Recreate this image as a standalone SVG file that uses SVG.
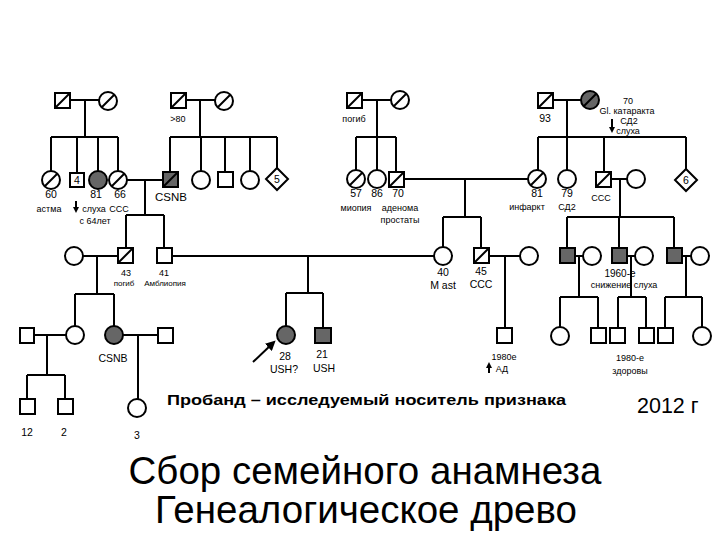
<svg xmlns="http://www.w3.org/2000/svg" width="720" height="540" viewBox="0 0 720 540">
<style>
.ln{stroke:#000;stroke-width:2;fill:none}
.sh{fill:#fff;stroke:#000;stroke-width:2}
.af{fill:#666;stroke:#000;stroke-width:2}
.sl{stroke:#000;stroke-width:2}
text{font-family:"Liberation Sans",Arial,sans-serif;fill:#000}
.s{font-size:9px;text-anchor:middle}
.m{font-size:10.5px;text-anchor:middle}
</style>
<defs>
<marker id="ah" markerWidth="6" markerHeight="6" refX="3" refY="3" orient="auto" markerUnits="userSpaceOnUse"><path d="M0,0 L6,3 L0,6 z" fill="#000"/></marker>
<marker id="ab" markerWidth="10" markerHeight="10" refX="5" refY="5" orient="auto" markerUnits="userSpaceOnUse"><path d="M0,0 L10,5 L0,10 z" fill="#000"/></marker>
</defs>
<rect width="720" height="540" fill="#fff"/>

<g id="connectors">
<path class="ln" d="M70,100 H99 M85,100 V137 M51,137 H118 M51,137 V172 M77,137 V173 M98,137 V171 M118,137 V171"/>
<path class="ln" d="M186,100 H215 M200,100 V137 M170,137 H277 M170,137 V172 M201,137 V171 M225,137 V172 M250,137 V171 M277,137 V168"/>
<path class="ln" d="M127,180 H163 M145,180 V215 M126,215 H164 M126,215 V248 M164,215 V248"/>
<path class="ln" d="M362,100 H391 M377,100 V137 M356,137 H396 M356,137 V171 M377,137 V171 M396,137 V172"/>
<path class="ln" d="M553,100 H581 M567,100 V137 M538,137 H686 M538,137 V170 M567,137 V170 M604,137 V172 M686,137 V169"/>
<path class="ln" d="M404,179 H528 M465,179 V217 M443,217 H481 M443,217 V247 M481,217 V248"/>
<path class="ln" d="M611,179 H627 M620,179 V217 M567,217 H674 M567,217 V248 M619,217 V248 M674,217 V248"/>
<path class="ln" d="M83,256 H118 M97,256 V294 M75,294 H114 M75,294 V326 M114,294 V326"/>
<path class="ln" d="M172,256 H434 M308,256 V293 M286,293 H323 M286,293 V326 M323,293 V328"/>
<path class="ln" d="M489,256 H520 M505,256 V328"/>
<path class="ln" d="M575,256 H583 M579,256 V297 M560,297 H598 M560,297 V327 M598,297 V328"/>
<path class="ln" d="M627,256 H635 M631,256 V297 M618,297 H646 M618,297 V328 M646,297 V328"/>
<path class="ln" d="M682,256 H691 M686,256 V297 M665,297 H702 M665,297 V328 M702,297 V327"/>
<path class="ln" d="M34,335 H66 M47,335 V375 M27,375 H65 M27,375 V399 M65,375 V399"/>
<path class="ln" d="M123,335 H158 M138,335 V399"/>
<line class="ln" x1="76" y1="201" x2="76" y2="210" stroke-width="1.2" marker-end="url(#ah)"/>
<line class="ln" x1="612" y1="119" x2="612" y2="130" stroke-width="1.2" marker-end="url(#ah)"/>
<line class="ln" x1="489" y1="373" x2="489" y2="365" stroke-width="1.2" marker-end="url(#ah)"/>
<line class="ln" x1="253" y1="362" x2="272" y2="344" stroke-width="3" marker-end="url(#ab)"/>
</g>

<g id="I1"><rect class="sh" x="55" y="93" width="15" height="15"/><line class="sl" x1="55" y1="108" x2="70" y2="93"/></g>
<g id="I2"><circle class="sh" cx="108" cy="101" r="9"/><line class="sl" x1="102" y1="107" x2="114" y2="95"/></g>
<g id="I3"><rect class="sh" x="171" y="93" width="15" height="15"/><line class="sl" x1="171" y1="108" x2="186" y2="93"/><text class="s" x="178" y="122">&gt;80</text></g>
<g id="I4"><circle class="sh" cx="224" cy="101" r="9"/><line class="sl" x1="218" y1="107" x2="230" y2="95"/></g>
<g id="I5"><rect class="sh" x="347" y="93" width="15" height="15"/><line class="sl" x1="347" y1="108" x2="362" y2="93"/><text class="s" x="354" y="122">погиб</text></g>
<g id="I6"><circle class="sh" cx="400" cy="100" r="9"/><line class="sl" x1="394" y1="106" x2="406" y2="94"/></g>
<g id="I7"><rect class="sh" x="538" y="93" width="15" height="15"/><line class="sl" x1="538" y1="108" x2="553" y2="93"/><text class="m" x="545" y="122">93</text></g>
<g id="I8"><circle class="af" cx="590" cy="100" r="9"/><line class="sl" x1="584" y1="106" x2="596" y2="94"/>
<text class="s" x="628" y="104">70</text><text class="s" x="627" y="114">Gl. катаракта</text><text class="s" x="629" y="124">СД2</text><text class="s" x="628" y="134">слуха</text></g>

<g id="II1"><circle class="sh" cx="51" cy="180" r="9"/><line class="sl" x1="45" y1="186" x2="57" y2="174"/><text class="m" x="51" y="198">60</text><text class="s" x="49" y="212">астма</text></g>
<g id="II2"><rect class="sh" x="70" y="173" width="14" height="14"/><text class="m" x="77" y="184">4</text></g>
<g id="II3"><circle class="af" cx="98" cy="180" r="9"/><text class="m" x="96" y="198">81</text><text class="s" x="94" y="212">слуха</text><text class="s" x="95" y="224">с 64лет</text></g>
<g id="II4"><circle class="sh" cx="118" cy="180" r="9"/><line class="sl" x1="112" y1="186" x2="124" y2="174"/><text class="m" x="120" y="198">66</text><text class="s" x="119" y="212">ССС</text></g>
<g id="II5"><rect class="af" x="163" y="172" width="15" height="15"/><line class="sl" x1="163" y1="187" x2="178" y2="172"/><text class="m" x="171" y="201" style="font-size:11.5px">CSNB</text></g>
<g id="II6"><circle class="sh" cx="201" cy="180" r="9"/></g>
<g id="II7"><rect class="sh" x="218" y="172" width="15" height="15"/></g>
<g id="II8"><circle class="sh" cx="250" cy="180" r="9"/></g>
<g id="II9"><polygon class="sh" points="277,168 288,179 277,190 266,179"/><text class="m" x="277" y="183">5</text></g>
<g id="II10"><circle class="sh" cx="356" cy="179" r="9"/><line class="sl" x1="350" y1="185" x2="362" y2="173"/><text class="m" x="356" y="197">57</text><text class="s" x="356" y="211">миопия</text></g>
<g id="II11"><circle class="sh" cx="377" cy="179" r="9"/><text class="m" x="377" y="197">86</text></g>
<g id="II12"><rect class="sh" x="389" y="172" width="15" height="15"/><line class="sl" x1="389" y1="187" x2="404" y2="172"/><text class="m" x="398" y="197">70</text><text class="s" x="400" y="211">аденома</text><text class="s" x="400" y="223">простаты</text></g>
<g id="II13"><circle class="sh" cx="537" cy="179" r="9"/><line class="sl" x1="531" y1="185" x2="543" y2="173"/><text class="m" x="537" y="197">81</text><text class="s" x="527" y="210">инфаркт</text></g>
<g id="II14"><circle class="sh" cx="567" cy="179" r="9"/><text class="m" x="567" y="197">79</text><text class="s" x="567" y="210">СД2</text></g>
<g id="II15"><rect class="sh" x="596" y="172" width="15" height="15"/><line class="sl" x1="596" y1="187" x2="611" y2="172"/><text class="s" x="601" y="201">ССС</text></g>
<g id="II16"><circle class="sh" cx="636" cy="179" r="9"/></g>
<g id="II17"><polygon class="sh" points="686,169 697,180 686,191 675,180"/><text class="m" x="686" y="184">6</text></g>

<g id="III1"><circle class="sh" cx="74" cy="256" r="9"/></g>
<g id="III2"><rect class="sh" x="118" y="248" width="15" height="15"/><line class="sl" x1="118" y1="263" x2="133" y2="248"/><text class="s" x="126" y="276">43</text><text class="s" x="124" y="286" style="font-size:8px">погиб</text></g>
<g id="III3"><rect class="sh" x="157" y="248" width="15" height="15"/><text class="s" x="164" y="276">41</text><text class="s" x="165" y="286" style="font-size:8px">Амблиопия</text></g>
<g id="III4"><circle class="sh" cx="443" cy="256" r="9"/><text class="m" x="443" y="276">40</text><text class="m" x="443" y="289">M ast</text></g>
<g id="III5"><rect class="sh" x="474" y="248" width="15" height="15"/><line class="sl" x1="474" y1="263" x2="489" y2="248"/><text class="m" x="481" y="275">45</text><text class="m" x="481" y="288">ССС</text></g>
<g id="III6"><circle class="sh" cx="529" cy="256" r="9"/></g>
<g id="III7"><rect class="af" x="560" y="248" width="15" height="15"/></g>
<g id="III8"><circle class="sh" cx="592" cy="256" r="9"/></g>
<g id="III9"><rect class="af" x="612" y="248" width="15" height="15"/><text class="s" x="620" y="277" style="font-size:10px">1960-е</text><text class="s" x="624" y="288">снижение слуха</text></g>
<g id="III10"><circle class="sh" cx="644" cy="256" r="9"/></g>
<g id="III11"><rect class="af" x="667" y="248" width="15" height="15"/></g>
<g id="III12"><circle class="sh" cx="700" cy="256" r="9"/></g>

<g id="IV1"><rect class="sh" x="20" y="328" width="14" height="15"/></g>
<g id="IV2"><circle class="sh" cx="75" cy="335" r="9"/></g>
<g id="IV3"><circle class="af" cx="114" cy="335" r="9"/><text class="m" x="113" y="362">CSNB</text></g>
<g id="IV4"><rect class="sh" x="158" y="328" width="15" height="15"/></g>
<g id="IV5"><circle class="af" cx="286" cy="335" r="9"/><text class="m" x="285" y="360">28</text><text class="m" x="284" y="373">USH?</text></g>
<g id="IV6"><rect class="af" x="315" y="328" width="16" height="15"/><text class="m" x="322" y="358">21</text><text class="m" x="324" y="372">USH</text></g>
<g id="IV7"><rect class="sh" x="497" y="328" width="15" height="15"/><text class="s" x="504" y="360">1980е</text><text class="s" x="502" y="372">АД</text></g>
<g id="IV8"><circle class="sh" cx="560" cy="336" r="9"/></g>
<g id="IV9"><rect class="sh" x="591" y="328" width="15" height="15"/></g>
<g id="IV10"><rect class="sh" x="610" y="328" width="15" height="15"/><text class="s" x="630" y="361">1980-е</text><text class="s" x="630" y="374">здоровы</text></g>
<g id="IV11"><rect class="sh" x="639" y="328" width="15" height="15"/></g>
<g id="IV12"><rect class="sh" x="658" y="328" width="15" height="15"/></g>
<g id="IV13"><circle class="sh" cx="702" cy="336" r="9"/></g>

<g id="V1"><rect class="sh" x="20" y="399" width="15" height="15"/><text class="m" x="27" y="436">12</text></g>
<g id="V2"><rect class="sh" x="58" y="399" width="15" height="15"/><text class="m" x="64" y="436">2</text></g>
<g id="V3"><circle class="sh" cx="137" cy="408" r="9"/><text class="m" x="137" y="439">3</text></g>

<g id="legend">
<text x="167" y="405" style="font-size:14.5px;font-weight:bold" textLength="399" lengthAdjust="spacingAndGlyphs">Пробанд – исследуемый носитель признака</text>
<text x="637" y="413" style="font-size:21.5px">2012 г</text>
</g>
<g id="title">
<text x="365" y="484" style="font-size:38.5px;text-anchor:middle">Сбор семейного анамнеза</text>
<text x="366" y="523" style="font-size:38.5px;text-anchor:middle">Генеалогическое древо</text>
</g>
</svg>
